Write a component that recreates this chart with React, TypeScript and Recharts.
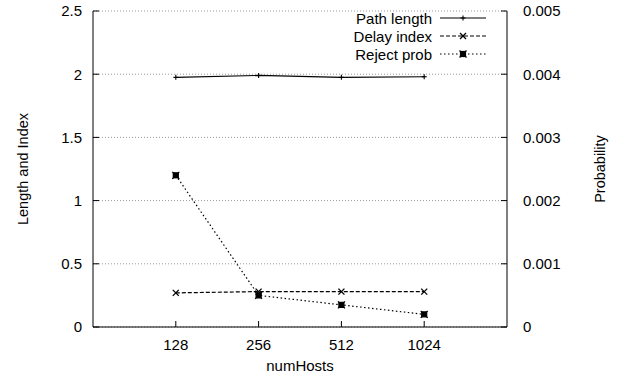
import React from "react";
import {
  ComposedChart,
  Line,
  XAxis,
  YAxis,
  CartesianGrid,
  Legend,
} from "recharts";

// numHosts categories
const hosts = ["128", "256", "512", "1024"];
// left axis series
const pathLength = [1.975, 1.99, 1.975, 1.98];
const delayIndex = [0.27, 0.28, 0.28, 0.28];
// right axis series
const rejectProb = [0.0024, 0.0005, 0.00035, 0.0002];

const leftTicks = [0, 0.5, 1, 1.5, 2, 2.5];
const rightTicks = [0, 0.001, 0.002, 0.003, 0.004, 0.005];
const legendOrder = ["Path length", "Delay index", "Reject prob"];

const data = hosts.map((h, i) => ({
  x: i + 1,
  host: h,
  pathLength: pathLength[i],
  delayIndex: delayIndex[i],
  rejectProb: rejectProb[i],
}));

const FONT = "'Liberation Sans', Arial, Helvetica, sans-serif";

const PlusDot = (props: any) => {
  const { cx, cy } = props;
  if (cx == null || cy == null) return null;
  return (
    <g stroke="#000" strokeWidth={1.1}>
      <line x1={cx - 2.5} y1={cy} x2={cx + 2.5} y2={cy} />
      <line x1={cx} y1={cy - 2.5} x2={cx} y2={cy + 2.5} />
    </g>
  );
};

const CrossDot = (props: any) => {
  const { cx, cy } = props;
  if (cx == null || cy == null) return null;
  return (
    <g stroke="#000" strokeWidth={1.3}>
      <line x1={cx - 3} y1={cy - 3} x2={cx + 3} y2={cy + 3} />
      <line x1={cx - 3} y1={cy + 3} x2={cx + 3} y2={cy - 3} />
    </g>
  );
};

const StarDot = (props: any) => {
  const { cx, cy } = props;
  if (cx == null || cy == null) return null;
  return (
    <g stroke="#000" strokeWidth={1.2}>
      <rect x={cx - 2.5} y={cy - 2.5} width={5} height={5} fill="#000" />
      <line x1={cx - 3.5} y1={cy - 3.5} x2={cx + 3.5} y2={cy + 3.5} />
      <line x1={cx - 3.5} y1={cy + 3.5} x2={cx + 3.5} y2={cy - 3.5} />
    </g>
  );
};

const seriesStyle: Record<string, { dash?: string; Dot: any }> = {
  "Path length": { dash: undefined, Dot: PlusDot },
  "Delay index": { dash: "4 2", Dot: CrossDot },
  "Reject prob": { dash: "1.5 2.5", Dot: StarDot },
};

const renderLegend = () => {
  return (
    <svg width={170} height={60} style={{ display: "block" }}>
      {legendOrder.map((name, i) => {
        const st = seriesStyle[name];
        const y = 10 + i * 18;
        const D = st.Dot;
        return (
          <g key={name}>
            <text
              x={92}
              y={y}
              textAnchor="end"
              dominantBaseline="central"
              fontSize={15}
              fontFamily={FONT}
              fill="#000"
            >
              {name}
            </text>
            <line
              x1={100}
              y1={y}
              x2={146}
              y2={y}
              stroke="#000"
              strokeWidth={1.2}
              strokeDasharray={st.dash}
            />
            <D cx={123} cy={y} />
          </g>
        );
      })}
    </svg>
  );
};

export default function App() {
  const tickStyle = { fontSize: 15, fontFamily: FONT, fill: "#000" };
  return (
    <div style={{ position: "absolute", left: 0, top: 0 }}>
      <ComposedChart
        width={620}
        height={379}
        data={data}
        margin={{ top: 11, right: 0, bottom: 0, left: 0 }}
      >
        <CartesianGrid
          xAxisId="bottom"
          yAxisId="left"
          vertical={false}
          stroke="#999"
          strokeDasharray="1 2"
        />
        <XAxis
          xAxisId="bottom"
          dataKey="x"
          type="number"
          domain={[0, 5]}
          ticks={[1, 2, 3, 4]}
          tickFormatter={(v: number) => hosts[v - 1] ?? ""}
          height={52}
          stroke="#000"
          tickSize={-6}
          tickMargin={18}
          tick={tickStyle}
          label={{
            value: "numHosts",
            position: "center",
            dy: 13,
            style: { fontSize: 15, fontFamily: FONT, fill: "#000" },
          }}
        />
        <XAxis
          xAxisId="top"
          orientation="top"
          dataKey="x"
          type="number"
          domain={[0, 5]}
          ticks={[1, 2, 3, 4]}
          height={0}
          stroke="#000"
          tickSize={-6}
          tick={false}
        />
        <YAxis
          yAxisId="left"
          domain={[0, 2.5]}
          ticks={leftTicks}
          width={93}
          stroke="#000"
          tickSize={-6}
          tickMargin={17}
          tick={tickStyle}
          label={{
            value: "Length and Index",
            angle: -90,
            position: "center",
            dx: -24,
            style: { fontSize: 14.5, fontFamily: FONT, fill: "#000", textAnchor: "middle" },
          }}
        />
        <YAxis
          yAxisId="right"
          orientation="right"
          domain={[0, 0.005]}
          ticks={rightTicks}
          width={113}
          stroke="#000"
          tickSize={-6}
          tickMargin={22}
          tick={tickStyle}
          label={{
            value: "Probability",
            angle: -90,
            position: "center",
            dx: 36,
            style: { fontSize: 14.5, fontFamily: FONT, fill: "#000", textAnchor: "middle" },
          }}
        />
        <Legend
          layout="vertical"
          align="center"
          verticalAlign="middle"
          content={renderLegend}
          wrapperStyle={{ top: 8, left: 340, width: 170, height: 60 }}
        />
        <Line
          xAxisId="bottom"
          yAxisId="left"
          dataKey="pathLength"
          name="Path length"
          stroke="#000"
          strokeWidth={1.2}
          dot={<PlusDot />}
          activeDot={false}
          isAnimationActive={false}
        />
        <Line
          xAxisId="bottom"
          yAxisId="left"
          dataKey="delayIndex"
          name="Delay index"
          stroke="#000"
          strokeWidth={1.2}
          strokeDasharray="4 2"
          dot={<CrossDot />}
          activeDot={false}
          isAnimationActive={false}
        />
        <Line
          xAxisId="bottom"
          yAxisId="right"
          dataKey="rejectProb"
          name="Reject prob"
          stroke="#000"
          strokeWidth={1.2}
          strokeDasharray="1.5 2.5"
          dot={<StarDot />}
          activeDot={false}
          isAnimationActive={false}
        />
      </ComposedChart>
    </div>
  );
}
